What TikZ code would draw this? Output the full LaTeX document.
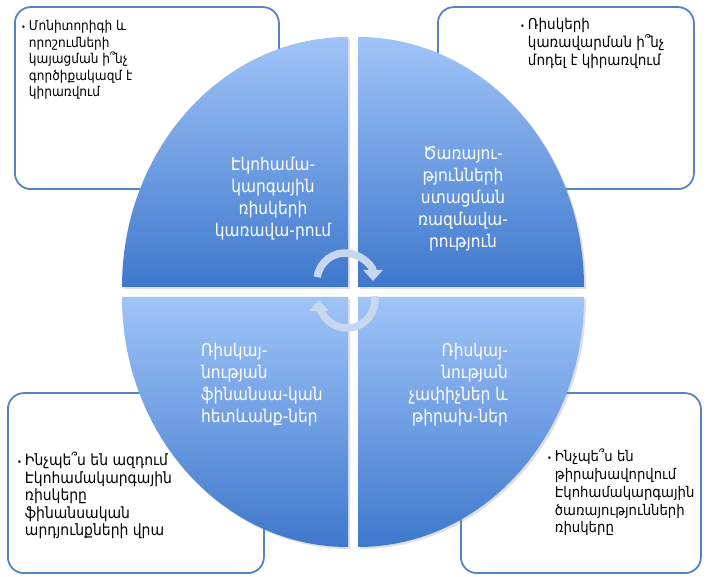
\documentclass[tikz,border=0pt]{standalone}
\usepackage{fontspec}
\setmainfont{DejaVu Sans}
\newfontfamily\condfont[FakeStretch=0.9]{DejaVu Sans}
\newfontfamily\qfont[FakeStretch=0.88]{DejaVu Sans}
\usetikzlibrary{arrows.meta,shadows}
\definecolor{boxline}{RGB}{84,132,194}
\definecolor{qlight}{RGB}{160,196,248}
\definecolor{qdark}{RGB}{62,120,204}
\definecolor{arrowc}{RGB}{200,215,240}
\begin{document}
\begin{tikzpicture}[x=1pt,y=1pt,
  infobox/.style={draw=boxline, line width=1.8pt, rounded corners=16pt, fill=white, anchor=south west, inner sep=0pt},
  quarter/.style={top color=qlight, bottom color=qdark, drop shadow={opacity=0.25, shadow xshift=2pt, shadow yshift=-2pt}},
  qtext/.style={text=white, font=\qfont\fontsize{17.5}{22}\selectfont, inner sep=0pt},
  btext/.style={text=black, inner sep=0pt, anchor=north west},
  cyc/.style={draw=arrowc, line width=7.5pt, -{Triangle[width=19pt,length=11pt]}}
]
\useasboundingbox (0,0) rectangle (708,577);
\fill[white] (0,0) rectangle (708,577);
\newcommand{\bul}{{\fontsize{9}{9}\selectfont •}}
% boxes
\node[infobox, minimum width=264pt, minimum height=182pt] (b1) at (14,387) {};
\node[infobox, minimum width=256pt, minimum height=182pt] (b2) at (437,387) {};
\node[infobox, minimum width=256pt, minimum height=180pt] (b3) at (7,3) {};
\node[infobox, minimum width=240pt, minimum height=180pt] (b4) at (460,3) {};
% box texts
\node[btext, font=\condfont\fontsize{13.5}{16.5}\selectfont] (t1) at (21,558) {\begin{tabular}{@{}l@{\hspace{3pt}}l@{}}\bul & Մոնիտորիգի և\\ & որոշումների\\ & կայացման ի՞նչ\\ & գործիքակազմ է\\ & կիրառվում\end{tabular}};
\node[btext, font=\condfont\fontsize{15}{17.5}\selectfont] (t2) at (520,560) {\begin{tabular}{@{}l@{\hspace{3pt}}l@{}}\bul & Ռիսկերի\\ & կառավարման ի՞նչ\\ & մոդել է կիրառվում\end{tabular}};
\node[btext, font=\condfont\fontsize{15.5}{17.5}\selectfont] (t3) at (17,125) {\begin{tabular}{@{}l@{\hspace{3pt}}l@{}}\bul & Ինչպե՞ս են ազդում\\ & Էկոհամակարգային\\ & ռիսկերը\\ & ֆինանսական\\ & արդյունքների վրա\end{tabular}};
\node[btext, font=\condfont\fontsize{14.7}{17.7}\selectfont] (t4) at (547,128) {\begin{tabular}{@{}l@{\hspace{3pt}}l@{}}\bul & Ինչպե՞ս են\\ & թիրախավորվում\\ & Էկոհամակարգային\\ & ծառայությունների\\ & ռիսկերը\end{tabular}};
% quarters
\path[quarter] (348,290) -- ++(-226,0) arc[start angle=180,end angle=90,x radius=226,y radius=250] -- cycle;
\path[quarter] (358,290) -- ++(0,250) arc[start angle=90,end angle=0,x radius=226,y radius=250] -- cycle;
\path[quarter] (348,280) -- ++(-226,0) arc[start angle=180,end angle=270,x radius=226,y radius=250] -- cycle;
\path[quarter] (358,280) -- ++(0,-250) arc[start angle=270,end angle=360,x radius=226,y radius=250] -- cycle;
% quarter texts
\node[qtext, align=center] (q1) at (273,378) {Էկոհամա-\\կարգային\\ռիսկերի\\կառավա-րում};
\node[qtext, align=center] (q2) at (463,378) {Ծառայու-\\թյունների\\ստացման\\ռազմավա-\\րություն};
\node[qtext, align=left, anchor=west] (q3) at (201,192) {Ռիսկայ-\\նության\\ֆինանսա-կան\\հետևանք-ներ};
\node[qtext, align=right, anchor=east] (q4) at (508,192) {Ռիսկայ-\\նության\\չափիչներ և\\թիրախ-ներ};
% cycle arrows
\coordinate (c1) at (345,296);
\coordinate (c2) at (347,277);
\draw[cyc] ([shift={(172:28)}]c1) arc[start angle=172,end angle=0,radius=28];
\draw[cyc] ([shift={(8:28)}]c2) arc[start angle=8,end angle=-180,radius=28];
\end{tikzpicture}
\end{document}
